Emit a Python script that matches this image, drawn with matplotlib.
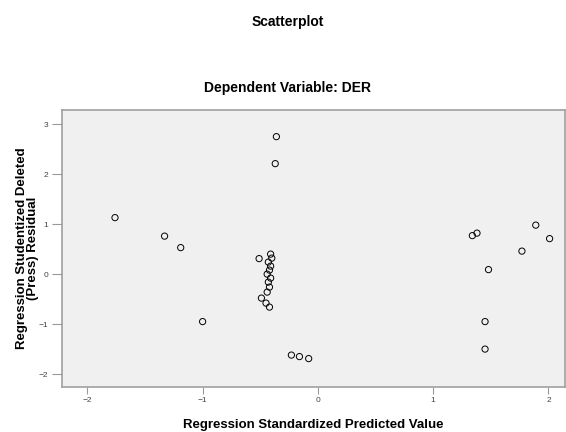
import matplotlib
matplotlib.use("Agg")
import matplotlib.pyplot as plt

# standardized predicted value vs studentized deleted residual
pred = [-0.36, -0.37, -1.76, -1.33, -1.19, -0.51,
        -0.41, -0.40, -0.43, -0.41, -0.42, -0.44, -0.41, -0.43, -0.42, -0.44, -0.49, -0.45, -0.42,
        -1.00, -0.23, -0.16, -0.08,
        1.34, 1.38, 1.89, 2.01, 1.77, 1.48, 1.45, 1.45]
resid = [2.75, 2.21, 1.13, 0.76, 0.53, 0.31,
         0.40, 0.32, 0.24, 0.16, 0.08, 0.00, -0.08, -0.16, -0.26, -0.36, -0.48, -0.58, -0.66,
         -0.95, -1.62, -1.65, -1.69,
         0.77, 0.82, 0.98, 0.71, 0.46, 0.09, -0.95, -1.50]

xticks = [-2, -1, 0, 1, 2]
yticks = [-2, -1, 0, 1, 2, 3]

plt.rcParams['font.family'] = ['Liberation Sans', 'DejaVu Sans']

fig = plt.figure(figsize=(5.66, 4.32), dpi=100)
ax = fig.add_axes([0.1095, 0.104, 0.888, 0.641])
ax.set_facecolor('#f0f0f0')

ax.scatter(pred, resid, s=20, facecolors='none', edgecolors='black', linewidths=0.7)

ax.set_xlim(-2.22, 2.14)
ax.set_ylim(-2.26, 3.28)
ax.set_xticks(xticks)
ax.set_yticks(yticks)
ax.tick_params(colors='#999999', labelcolor='#444444', labelsize=6, width=0.8)
ax.tick_params(axis='x', length=5, pad=2)
ax.tick_params(axis='y', length=7, pad=3)
for s in ax.spines.values():
    s.set_color('#a0a0a0')
    s.set_linewidth(1.2)

ax.set_xlabel('Regression Standardized Predicted Value', fontsize=9.5, fontweight='bold', labelpad=11)
ax.set_ylabel('Regression Studentized Deleted\n(Press) Residual', fontsize=9.5, fontweight='bold',
              linespacing=0.9)
ax.yaxis.set_label_coords(-0.046, 0.5)

fig.text(288/566, 1 - 22/432, 'Scatterplot', ha='center', va='center', fontsize=10, fontweight='bold')
fig.text(288/566, 1 - 88/432, 'Dependent Variable: DER', ha='center', va='center', fontsize=10, fontweight='bold')

fig.savefig('out.png', dpi=100)
